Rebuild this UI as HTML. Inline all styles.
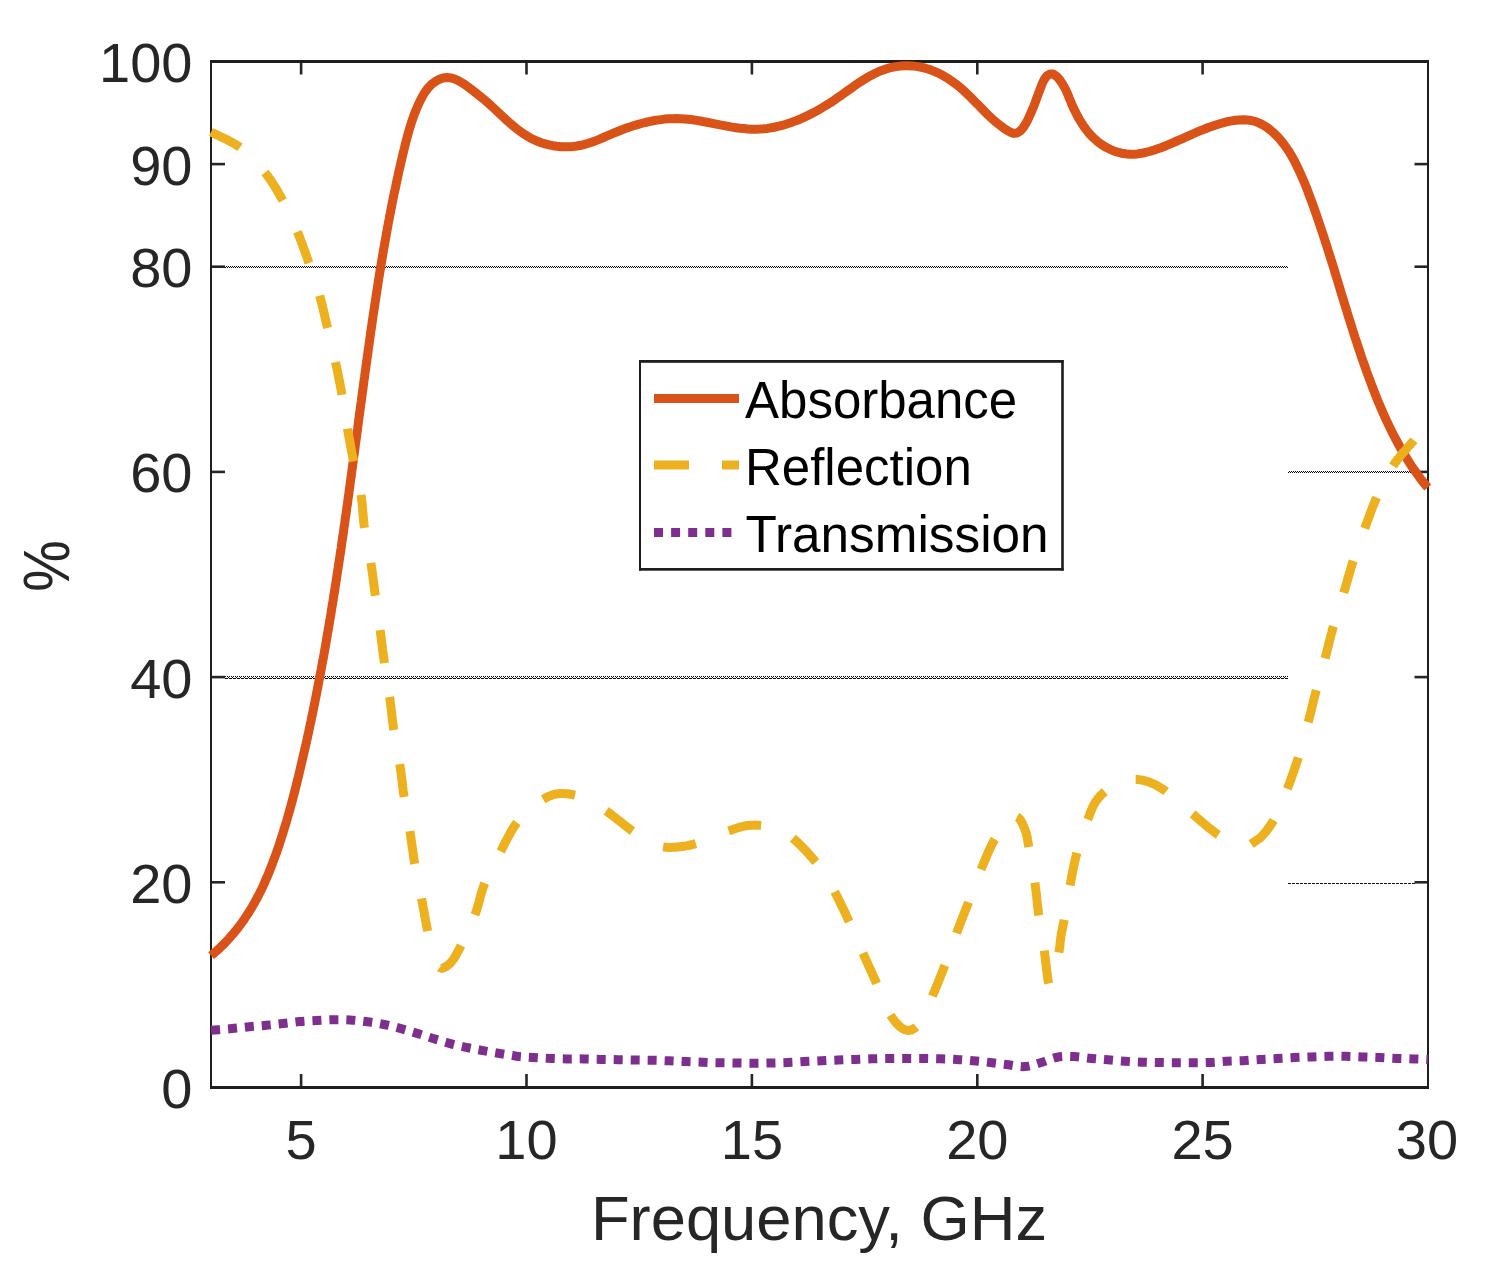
<!DOCTYPE html>
<html><head><meta charset="utf-8"><style>
html,body{margin:0;padding:0;background:#fff;}
body{width:1490px;height:1280px;overflow:hidden;}
svg{display:block;}
text{font-family:"Liberation Sans",sans-serif;}
</style></head><body>
<svg width="1490" height="1280" viewBox="0 0 1490 1280">
<defs>
<pattern id="chk" x="0" y="0" width="2" height="2" patternUnits="userSpaceOnUse"><rect x="0" y="0" width="1" height="1" fill="#000"/><rect x="1" y="1" width="1" height="1" fill="#000"/></pattern>
<pattern id="g3" x="0" y="676" width="4" height="3" patternUnits="userSpaceOnUse"><rect x="1" y="0" width="1" height="1" fill="#000"/><rect x="3" y="0" width="1" height="1" fill="#000"/><rect x="0" y="1" width="1" height="1" fill="#000"/><rect x="1" y="2" width="3" height="1" fill="#000"/></pattern>
</defs>
<rect width="1490" height="1280" fill="#fff"/>
<rect x="225" y="266" width="1063" height="2" fill="url(#chk)"/>
<rect x="225" y="676" width="1063" height="3" fill="url(#g3)"/>
<rect x="1288" y="471" width="127" height="2" fill="url(#chk)"/>
<line x1="1288" y1="883.5" x2="1415" y2="883.5" stroke="#111" stroke-width="1" stroke-dasharray="3 1"/>

<g fill="#262626">
<rect x="299.8" y="1074" width="2.6" height="13"/><rect x="299.8" y="62" width="2.6" height="12.5"/><rect x="525.2" y="1074" width="2.6" height="13"/><rect x="525.2" y="62" width="2.6" height="12.5"/><rect x="750.6" y="1074" width="2.6" height="13"/><rect x="750.6" y="62" width="2.6" height="12.5"/><rect x="976" y="1074" width="2.6" height="13"/><rect x="976" y="62" width="2.6" height="12.5"/><rect x="1201.3" y="1074" width="2.6" height="13"/><rect x="1201.3" y="62" width="2.6" height="12.5"/><rect x="211" y="881" width="14" height="2.6"/><rect x="1414.5" y="881" width="13" height="2.6"/><rect x="211" y="675.8" width="14" height="2.6"/><rect x="1414.5" y="675.8" width="13" height="2.6"/><rect x="211" y="470.6" width="14" height="2.6"/><rect x="1414.5" y="470.6" width="13" height="2.6"/><rect x="211" y="265.4" width="14" height="2.6"/><rect x="1414.5" y="265.4" width="13" height="2.6"/><rect x="211" y="162.8" width="14" height="2.6"/><rect x="1414.5" y="162.8" width="13" height="2.6"/>
<rect x="210" y="60" width="1219" height="3" fill="#1e1e1e"/>
<rect x="210" y="1086" width="1219" height="3" fill="#1e1e1e"/>
<rect x="210" y="60" width="2" height="1029" fill="#1e1e1e"/>
<rect x="1427" y="60" width="2" height="1029" fill="#1e1e1e"/>
</g>
<g fill="none" stroke-linejoin="round">
<path d="M211,1030.2 C217.9,1029.7 225.2,1029.2 231.8,1028.6 C237.9,1028 243.5,1027.3 249.3,1026.7 C255,1026.2 260.6,1025.8 266.2,1025.3 C271.8,1024.8 277.3,1024.1 282.9,1023.5 C288.4,1022.9 293.9,1022.1 299.5,1021.6 C305.1,1021.1 310.8,1020.8 316.4,1020.5 C322,1020.2 327.7,1019.8 333.3,1019.7 C338.9,1019.6 344.4,1019.7 350,1020 C355.7,1020.3 361.7,1021 367.4,1021.8 C373.1,1022.5 378.7,1023.4 384.3,1024.5 C389.9,1025.6 395.5,1027.1 401,1028.6 C406.4,1030.1 411.7,1031.8 417.1,1033.4 C422.5,1035.1 427.8,1036.8 433.2,1038.5 C438.6,1040.1 443.9,1041.8 449.3,1043.3 C454.8,1044.8 460.4,1046.1 466,1047.3 C471.6,1048.5 477.3,1049.6 482.9,1050.6 C488.5,1051.6 494.2,1052.6 499.8,1053.5 C505.4,1054.4 510.9,1055.5 516.4,1056.2 C521.9,1056.9 527.4,1057.1 533,1057.5 C538.6,1057.9 544.3,1058.2 550,1058.4 C555.6,1058.6 561.3,1058.8 566.9,1058.9 C572.5,1059 577.9,1058.8 583.5,1058.9 C589.2,1059 594.9,1059.3 600.7,1059.4 C606.5,1059.5 612.4,1059.6 618.2,1059.7 C623.9,1059.8 629.5,1059.9 635.1,1060 C640.7,1060.1 646.4,1060.1 652,1060.2 C657.6,1060.3 663.3,1060.6 668.9,1060.8 C674.5,1061 680.2,1061.4 685.8,1061.6 C691.4,1061.8 697.1,1062 702.7,1062.2 C708.4,1062.4 714,1062.7 719.7,1062.8 C725.3,1062.9 731,1062.9 736.6,1063 C742.2,1063.1 747.9,1063.3 753.5,1063.3 C759.1,1063.3 764.8,1063.1 770.4,1063 C776,1062.9 781.7,1062.7 787.3,1062.5 C792.9,1062.3 798.6,1061.9 804.2,1061.6 C809.8,1061.3 815.5,1061.1 821.1,1060.8 C826.7,1060.5 832.4,1060.2 838,1060 C843.6,1059.8 849.3,1059.6 854.9,1059.4 C860.5,1059.2 866.2,1058.9 871.8,1058.8 C877.5,1058.6 883.1,1058.5 888.8,1058.5 C894.4,1058.5 900.1,1058.5 905.7,1058.5 C911.3,1058.5 917,1058.5 922.6,1058.5 C928.2,1058.5 933.9,1058.7 939.5,1058.8 C945.1,1059 950.8,1059.1 956.4,1059.4 C962,1059.7 967.7,1060.3 973.3,1060.8 C978.9,1061.3 984.5,1061.8 990.2,1062.5 C996.1,1063.2 1002.4,1064.1 1008.3,1064.8 C1013.9,1065.5 1019.4,1067 1024.8,1066.6 C1030.3,1066.2 1035.7,1064.1 1041.1,1062.5 C1046.5,1060.9 1051.8,1058.2 1057.3,1057.2 C1062.8,1056.2 1068.6,1056.4 1074.2,1056.6 C1079.9,1056.8 1085.6,1057.9 1091.3,1058.4 C1096.9,1058.9 1102.5,1059.3 1108.1,1059.8 C1113.7,1060.3 1119.4,1060.9 1125,1061.3 C1130.6,1061.7 1136.2,1062 1141.8,1062.2 C1147.4,1062.4 1153,1062.4 1158.6,1062.5 C1164.2,1062.6 1169.9,1062.8 1175.5,1062.8 C1181.1,1062.8 1186.7,1062.8 1192.3,1062.8 C1197.9,1062.8 1203.5,1062.7 1209.1,1062.5 C1214.8,1062.3 1220.6,1061.6 1226.3,1061.3 C1231.9,1061 1237.5,1061 1243.1,1060.7 C1248.7,1060.4 1254.3,1059.8 1259.9,1059.5 C1265.6,1059.1 1271.4,1058.9 1277.1,1058.6 C1282.8,1058.3 1288.5,1057.8 1294.2,1057.5 C1299.9,1057.2 1305.6,1057.1 1311.3,1056.9 C1317,1056.7 1322.8,1056.4 1328.5,1056.3 C1334.2,1056.2 1339.9,1056.2 1345.6,1056.3 C1351.3,1056.4 1357,1056.7 1362.7,1056.9 C1368.4,1057.1 1374.1,1057.3 1379.8,1057.5 C1385.5,1057.8 1391.3,1058.2 1397,1058.4 C1402.6,1058.6 1408.4,1058.7 1413.8,1058.9 C1418.8,1059.1 1423.4,1059.3 1428.2,1059.5" stroke="#7E2F8E" stroke-width="9" stroke-dasharray="9 7.98"/>
<path d="M211.1,955.6 L214.2,953 L217.2,950.3 L220.2,947.6 L223.1,944.8 L225.9,941.9 L228.6,939 L231.2,936 L233.8,933 L236.4,929.9 L238.8,926.8 L241.2,923.6 L243.5,920.4 L245.7,917.1 L247.9,913.8 L250,910.4 L252.1,907 L254.1,903.5 L256,900 L257.9,896.5 L259.7,893 L261.5,889.4 L263.2,885.8 L264.8,882.1 L266.4,878.4 L268,874.8 L269.5,871 L271,867.3 L272.4,863.6 L273.8,859.8 L275.2,856 L276.6,852.3 L277.9,848.5 L279.2,844.7 L280.4,840.9 L281.6,837.1 L282.9,833.2 L284,829.4 L285.2,825.6 L286.4,821.8 L287.5,817.9 L288.6,814.1 L289.7,810.3 L290.7,806.4 L291.8,802.6 L292.8,798.7 L293.8,794.8 L294.8,791 L295.8,787.1 L296.8,783.2 L297.7,779.4 L298.7,775.5 L299.6,771.6 L300.5,767.7 L301.4,763.8 L302.3,760 L303.2,756.1 L304.1,752.2 L305,748.3 L305.9,744.4 L306.8,740.5 L307.6,736.6 L308.5,732.7 L309.3,728.8 L310.1,724.8 L311,720.9 L311.8,717 L312.6,713.1 L313.4,709.2 L314.2,705.3 L315,701.3 L315.8,697.4 L316.6,693.5 L317.3,689.6 L318.1,685.6 L318.8,681.7 L319.6,677.8 L320.3,673.8 L321.1,669.9 L321.8,666 L322.5,662 L323.3,658.1 L324,654.2 L324.7,650.2 L325.4,646.3 L326.1,642.3 L326.7,638.4 L327.4,634.5 L328.1,630.5 L328.8,626.6 L329.4,622.6 L330.1,618.7 L330.8,614.7 L331.4,610.8 L332,606.9 L332.7,602.9 L333.3,599 L333.9,595 L334.6,591.1 L335.2,587.1 L335.8,583.2 L336.4,579.2 L337,575.3 L337.6,571.3 L338.2,567.4 L338.8,563.4 L339.4,559.4 L340,555.5 L340.6,551.5 L341.2,547.6 L341.7,543.6 L342.3,539.7 L342.9,535.7 L343.5,531.8 L344,527.8 L344.6,523.9 L345.1,519.9 L345.7,515.9 L346.3,512 L346.8,508 L347.4,504.1 L347.9,500.1 L348.5,496.1 L349,492.2 L349.5,488.2 L350.1,484.3 L350.6,480.3 L351.2,476.3 L351.7,472.4 L352.2,468.4 L352.8,464.5 L353.3,460.5 L353.8,456.5 L354.4,452.6 L354.9,448.6 L355.4,444.7 L356,440.7 L356.5,436.7 L357,432.8 L357.6,428.8 L358.1,424.8 L358.6,420.9 L359.1,416.9 L359.7,413 L360.2,409 L360.7,405 L361.3,401.1 L361.8,397.1 L362.3,393.1 L362.9,389.2 L363.4,385.2 L363.9,381.3 L364.5,377.3 L365,373.3 L365.6,369.4 L366.1,365.4 L366.7,361.5 L367.2,357.5 L367.8,353.5 L368.3,349.6 L368.9,345.6 L369.4,341.7 L370,337.7 L370.5,333.7 L371.1,329.8 L371.7,325.8 L372.2,321.9 L372.8,317.9 L373.4,313.9 L374,310 L374.6,306 L375.2,302.1 L375.8,298.1 L376.4,294.2 L377,290.2 L377.6,286.3 L378.2,282.3 L378.8,278.4 L379.5,274.4 L380.1,270.5 L380.8,266.5 L381.4,262.6 L382.1,258.6 L382.7,254.7 L383.4,250.8 L384.1,246.8 L384.8,242.9 L385.5,239 L386.2,235 L386.9,231.1 L387.6,227.2 L388.3,223.2 L389.1,219.3 L389.8,215.4 L390.6,211.5 L391.4,207.5 L392.1,203.6 L392.9,199.7 L393.7,195.8 L394.5,191.9 L395.4,188 L396.2,184 L397,180.1 L397.9,176.2 L398.7,172.3 L399.6,168.4 L400.5,164.5 L401.4,160.6 L402.3,156.7 L403.2,152.9 L404.2,149 L405.1,145.1 L406.1,141.2 L407.1,137.3 L408.2,133.5 L409.2,129.6 L410.4,125.8 L411.6,122 L412.9,118.2 L414.2,114.5 L415.7,110.8 L417.2,107.1 L418.9,103.4 L420.6,99.8 L422.5,96.3 L424.5,92.8 L426.9,89.5 L429.5,86.4 L432.4,83.6 L435.8,81.2 L439.4,79.3 L443.1,78 L447,77.6 L450.8,77.9 L454.6,79 L458.3,80.7 L462,82.8 L465.5,85.1 L469,87.6 L472.3,90.1 L475.5,92.6 L478.5,95 L481.5,97.4 L484.5,99.8 L487.4,102.3 L490.2,104.9 L493.1,107.5 L496,110.2 L498.9,113 L501.8,115.7 L504.8,118.4 L507.7,121.2 L510.8,123.9 L513.9,126.5 L517,129 L520.2,131.4 L523.5,133.7 L526.9,135.9 L530.3,137.9 L533.9,139.7 L537.5,141.3 L541.3,142.7 L545.1,143.9 L549,144.9 L552.9,145.7 L556.9,146.3 L560.9,146.7 L564.9,146.8 L568.9,146.8 L572.9,146.5 L576.9,146 L580.8,145.3 L584.6,144.4 L588.4,143.3 L592.2,142 L596,140.6 L599.7,139.1 L603.4,137.5 L607.1,135.9 L610.8,134.3 L614.5,132.7 L618.3,131.2 L622.1,129.7 L625.9,128.3 L629.7,127 L633.5,125.8 L637.4,124.6 L641.2,123.5 L645.1,122.5 L649,121.6 L652.9,120.8 L656.8,120.1 L660.8,119.6 L664.7,119.1 L668.6,118.8 L672.6,118.7 L676.6,118.6 L680.5,118.7 L684.5,119 L688.4,119.3 L692.4,119.8 L696.4,120.4 L700.4,121 L704.3,121.8 L708.3,122.5 L712.3,123.3 L716.3,124.1 L720.2,124.9 L724.2,125.6 L728.2,126.4 L732.1,127.1 L736.1,127.7 L740,128.2 L744,128.6 L747.9,129 L751.8,129.2 L755.7,129.2 L759.7,129.1 L763.6,128.8 L767.5,128.4 L771.3,127.8 L775.2,127 L779,126.2 L782.9,125.2 L786.7,124 L790.5,122.8 L794.2,121.4 L798,120 L801.7,118.4 L805.4,116.7 L809.1,114.9 L812.7,113.1 L816.3,111.1 L819.9,109.1 L823.4,107 L826.9,104.9 L830.4,102.7 L833.8,100.4 L837.2,98.1 L840.6,95.8 L843.9,93.4 L847.2,91 L850.5,88.7 L853.8,86.3 L857.1,84.1 L860.4,81.8 L863.8,79.7 L867.1,77.7 L870.5,75.7 L874,73.9 L877.5,72.2 L881.1,70.7 L884.7,69.4 L888.4,68.2 L892.2,67.3 L896.1,66.6 L900.1,66.1 L904.1,65.8 L908.2,65.8 L912.2,65.9 L916.3,66.4 L920.2,67 L924.1,67.9 L928,69 L931.7,70.3 L935.4,71.8 L939,73.4 L942.5,75.3 L946,77.3 L949.3,79.4 L952.6,81.7 L955.9,84.1 L959,86.6 L962.1,89.2 L965.1,91.9 L968,94.7 L970.9,97.5 L973.7,100.4 L976.5,103.3 L979.4,106.1 L982.2,109 L985,111.9 L987.8,114.7 L990.8,117.5 L993.7,120.2 L996.7,122.8 L999.9,125.3 L1003.1,127.7 L1006.4,129.9 L1009.9,132 L1013.4,133.4 L1017,133 L1020.3,130.9 L1023.3,127.5 L1025.7,123.7 L1027.8,119.9 L1029.5,116.2 L1031.1,112.6 L1032.5,109.2 L1033.9,105.9 L1035.2,102.5 L1036.4,99.1 L1037.7,95.5 L1039.1,91.8 L1040.6,87.8 L1042.2,83.6 L1044.2,79.5 L1046.7,76.1 L1049.9,74 L1053.2,74.1 L1056.4,76.2 L1059.4,79.4 L1062,83.2 L1064.2,86.9 L1066.1,90.5 L1067.7,94.1 L1069.1,97.7 L1070.6,101.2 L1072,104.8 L1073.6,108.4 L1075.4,111.9 L1077.2,115.5 L1079.1,119 L1081.2,122.4 L1083.4,125.8 L1085.7,129 L1088.2,132.2 L1090.8,135.2 L1093.6,138 L1096.6,140.7 L1099.7,143.2 L1103,145.5 L1106.5,147.5 L1110.1,149.3 L1113.8,150.9 L1117.7,152.2 L1121.5,153.2 L1125.5,153.8 L1129.4,154.2 L1133.4,154.2 L1137.4,153.9 L1141.3,153.3 L1145.3,152.5 L1149.2,151.5 L1153.1,150.4 L1157,149.1 L1160.9,147.7 L1164.7,146.2 L1168.4,144.7 L1172.1,143.1 L1175.8,141.5 L1179.4,139.9 L1183.1,138.3 L1186.7,136.7 L1190.3,135.1 L1193.9,133.5 L1197.5,131.9 L1201.1,130.4 L1204.8,129 L1208.4,127.5 L1212.2,126.2 L1215.9,125 L1219.8,123.8 L1223.6,122.7 L1227.6,121.7 L1231.6,120.9 L1235.6,120.3 L1239.6,119.9 L1243.6,119.8 L1247.5,120 L1251.4,120.5 L1255.2,121.5 L1258.8,122.9 L1262.4,124.6 L1265.8,126.6 L1269.1,129 L1272.2,131.6 L1275.2,134.4 L1278.1,137.3 L1280.8,140.4 L1283.4,143.6 L1285.8,146.9 L1288.1,150.2 L1290.2,153.6 L1292.2,157 L1294.1,160.4 L1295.9,163.9 L1297.6,167.5 L1299.3,171 L1300.9,174.6 L1302.5,178.3 L1304.1,181.9 L1305.6,185.6 L1307.1,189.3 L1308.5,193.1 L1309.9,196.8 L1311.3,200.6 L1312.7,204.4 L1314.1,208.2 L1315.4,212 L1316.7,215.8 L1318,219.6 L1319.3,223.4 L1320.6,227.2 L1321.9,231 L1323.1,234.8 L1324.4,238.6 L1325.6,242.4 L1326.8,246.2 L1328,250 L1329.2,253.8 L1330.4,257.6 L1331.6,261.4 L1332.8,265.3 L1334,269.1 L1335.1,272.9 L1336.3,276.7 L1337.5,280.5 L1338.6,284.3 L1339.8,288.1 L1340.9,292 L1342.1,295.8 L1343.3,299.6 L1344.4,303.4 L1345.6,307.2 L1346.8,311 L1347.9,314.8 L1349.1,318.6 L1350.3,322.4 L1351.5,326.2 L1352.7,330 L1353.9,333.8 L1355.1,337.6 L1356.4,341.4 L1357.6,345.2 L1358.9,349 L1360.2,352.8 L1361.4,356.6 L1362.7,360.4 L1364,364.1 L1365.4,367.9 L1366.7,371.7 L1368.1,375.5 L1369.5,379.2 L1370.9,383 L1372.3,386.8 L1373.8,390.5 L1375.2,394.2 L1376.7,398 L1378.2,401.7 L1379.8,405.4 L1381.4,409.1 L1383,412.8 L1384.6,416.4 L1386.3,420.1 L1388,423.7 L1389.7,427.3 L1391.5,430.9 L1393.3,434.5 L1395.1,438 L1397,441.5 L1398.9,445 L1400.8,448.5 L1402.8,451.9 L1404.9,455.4 L1406.9,458.7 L1409,462.1 L1411.2,465.4 L1413.4,468.7 L1415.7,471.9 L1418,475.1 L1420.3,478.3 L1422.7,481.5 L1425.2,484.5 L1427.7,487.6" stroke="#D95319" stroke-width="9"/>
<path d="M211,132 L212.8,132.9 L214.6,133.9 L216.5,134.7 L218.3,135.6 L220.2,136.5 L222,137.4 L223.9,138.2 L225.7,139.1 L227.5,140 L229.4,141 L231.2,141.9 L232.9,142.9 L234.7,143.9 L236.4,145 L238.1,146.1 L239.8,147.3 L241.4,148.5 L243,149.8 L244.5,151 L246.1,152.4 L247.6,153.7 L249.1,155.1 L250.6,156.6 L252.1,158 L253.6,159.5 L255,161 L256.4,162.5 L257.8,164 L259.2,165.6 L260.6,167.2 L261.9,168.7 L263.2,170.3 L264.5,171.9 L265.8,173.5 L267,175.1 L268.2,176.8 L269.4,178.4 L270.6,180.1 L271.7,181.8 L272.8,183.5 L273.9,185.3 L275,187 L276.1,188.8 L277.2,190.5 L278.2,192.3 L279.2,194.1 L280.2,195.9 L281.2,197.6 L282.2,199.4 L283.2,201.2 L284.2,203.1 L285.2,204.9 L286.1,206.8 L287.1,208.7 L288,210.5 L288.9,212.4 L289.8,214.3 L290.7,216.2 L291.5,218.1 L292.4,220 L293.2,222 L294,223.9 L294.9,225.8 L295.7,227.7 L296.5,229.7 L297.3,231.6 L298.1,233.5 L298.9,235.5 L299.7,237.5 L300.4,239.4 L301.2,241.4 L301.9,243.4 L302.7,245.4 L303.4,247.4 L304.1,249.4 L304.8,251.3 L305.5,253.3 L306.2,255.3 L306.9,257.3 L307.6,259.3 L308.3,261.3 L309,263.3 L309.7,265.3 L310.4,267.2 L311.1,269.2 L311.8,271.2 L312.4,273.1 L313.1,275.1 L313.8,277.1 L314.5,279 L315.1,281 L315.8,283 L316.4,285 L317.1,287 L317.7,289 L318.3,291 L318.9,293 L319.5,295 L320,297 L320.6,298.9 L321.1,300.9 L321.6,302.9 L322.1,304.8 L322.6,306.8 L323.1,308.8 L323.5,310.8 L324,312.8 L324.5,314.8 L324.9,316.8 L325.4,318.8 L325.8,320.9 L326.3,322.9 L326.8,324.9 L327.2,326.9 L327.7,328.9 L328.2,330.9 L328.7,333 L329.2,335.1 L329.7,337.2 L330.2,339.2 L330.7,341.3 L331.2,343.4 L331.7,345.5 L332.2,347.6 L332.7,349.7 L333.2,351.7 L333.6,353.8 L334.1,355.9 L334.6,357.9 L335,359.9 L335.5,361.9 L335.9,363.9 L336.4,366.1 L336.8,368.2 L337.3,370.3 L337.7,372.4 L338.1,374.4 L338.5,376.5 L338.9,378.5 L339.3,380.5 L339.7,382.6 L340.1,384.7 L340.5,386.8 L340.9,388.9 L341.3,391 L341.7,393.2 L342,395.1 L342.4,397.1 L342.7,399.1 L343,401.1 L343.4,403.1 L343.7,405.1 L344,407.2 L344.3,409.2 L344.7,411.3 L345,413.3 L345.3,415.4 L345.6,417.5 L345.9,419.5 L346.3,421.5 L346.6,423.6 L346.9,425.6 L347.3,427.5 L347.6,429.5 L348,431.7 L348.4,433.8 L348.7,435.9 L349.1,438 L349.5,440 L349.9,442.1 L350.3,444.2 L350.6,446.2 L351,448.3 L351.4,450.3 L351.8,452.4 L352.2,454.5 L352.6,456.6 L353.1,458.7 L353.5,460.8 L353.9,462.8 L354.4,464.8 L354.8,466.9 L355.3,468.9 L355.8,471 L356.3,473.1 L356.7,475.2 L357.2,477.2 L357.7,479.3 L358.2,481.4 L358.7,483.5 L359.1,485.6 L359.6,487.6 L360,489.7 L360.4,491.7 L360.8,493.8 L361.1,495.8 L361.4,497.9 L361.7,500.1 L362,502.2 L362.2,504.3 L362.4,506.4 L362.6,508.5 L362.7,510.6 L362.9,512.7 L363.1,514.7 L363.2,516.8 L363.4,518.9 L363.6,521.1 L363.9,523.2 L364.1,525.3 L364.4,527.5 L364.7,529.5 L365,531.4 L365.3,533.4 L365.7,535.4 L366.1,537.4 L366.4,539.5 L366.8,541.5 L367.2,543.5 L367.6,545.6 L368,547.6 L368.4,549.6 L368.8,551.6 L369.2,553.7 L369.6,555.7 L370,557.7 L370.3,559.7 L370.7,561.6 L371,563.6 L371.3,565.6 L371.6,567.7 L371.9,569.7 L372.2,571.7 L372.5,573.6 L372.7,575.6 L373,577.6 L373.2,579.5 L373.5,581.5 L373.7,583.5 L374,585.4 L374.2,587.4 L374.5,589.4 L374.8,591.4 L375,593.4 L375.3,595.4 L375.6,597.4 L375.9,599.4 L376.1,601.4 L376.4,603.5 L376.7,605.5 L377,607.6 L377.3,609.6 L377.6,611.7 L377.8,613.7 L378.1,615.8 L378.4,617.8 L378.7,619.9 L379,622 L379.3,624 L379.5,626 L379.8,628.1 L380.1,630.1 L380.4,632.2 L380.7,634.3 L380.9,636.4 L381.2,638.5 L381.5,640.5 L381.7,642.6 L382,644.7 L382.3,646.8 L382.5,648.8 L382.8,650.9 L383.1,653 L383.4,655.1 L383.6,657.1 L383.9,659.2 L384.2,661.3 L384.5,663.4 L384.8,665.4 L385.1,667.4 L385.4,669.4 L385.7,671.4 L386,673.4 L386.3,675.4 L386.6,677.5 L387,679.5 L387.3,681.5 L387.6,683.5 L387.9,685.5 L388.2,687.5 L388.5,689.5 L388.8,691.5 L389.1,693.5 L389.4,695.5 L389.7,697.5 L390,699.5 L390.2,701.6 L390.5,703.6 L390.7,705.6 L391,707.6 L391.2,709.6 L391.4,711.6 L391.7,713.6 L391.9,715.6 L392.1,717.6 L392.3,719.7 L392.6,721.7 L392.9,723.7 L393.1,725.7 L393.4,727.8 L393.7,729.8 L394,731.8 L394.3,733.8 L394.7,735.9 L395,737.9 L395.4,740 L395.8,742 L396.2,744.1 L396.5,746.1 L396.9,748.2 L397.3,750.2 L397.7,752.3 L398.1,754.3 L398.4,756.4 L398.8,758.4 L399.1,760.5 L399.5,762.5 L399.8,764.5 L400.1,766.6 L400.4,768.6 L400.7,770.6 L401,772.7 L401.2,774.7 L401.5,776.7 L401.7,778.7 L402,780.7 L402.2,782.7 L402.5,784.7 L402.7,786.8 L403,788.8 L403.2,790.8 L403.5,792.8 L403.8,794.9 L404.1,796.9 L404.4,798.9 L404.7,800.9 L405.1,802.9 L405.4,804.9 L405.7,806.9 L406.1,808.9 L406.4,810.9 L406.8,812.9 L407.1,814.9 L407.5,816.9 L407.9,819 L408.2,821 L408.6,823 L408.9,825 L409.2,827 L409.6,829 L409.9,831 L410.2,833.1 L410.5,835.2 L410.8,837.2 L411.1,839.3 L411.4,841.4 L411.7,843.5 L412,845.5 L412.3,847.6 L412.6,849.7 L412.9,851.7 L413.2,853.8 L413.5,855.9 L413.8,857.9 L414.1,860 L414.4,862.1 L414.8,864.2 L415.2,866.2 L415.5,868.2 L415.9,870.3 L416.3,872.3 L416.7,874.4 L417.1,876.4 L417.5,878.4 L417.9,880.5 L418.3,882.5 L418.7,884.6 L419.2,886.6 L419.6,888.7 L420,890.7 L420.4,892.7 L420.8,894.7 L421.2,896.7 L421.6,898.8 L422,900.8 L422.4,902.9 L422.8,905 L423.1,907 L423.5,909.1 L423.9,911.2 L424.3,913.2 L424.6,915.3 L425,917.4 L425.4,919.4 L425.8,921.4 L426.1,923.4 L426.5,925.4 L426.9,927.3 L427.3,929.2 L427.7,931.1 L428.2,933.3 L428.6,935.4 L429.1,937.6 L429.6,939.7 L430,941.8 L430.5,943.9 L431,945.9 L431.5,947.9 L432,949.8 L432.5,951.6 L433,953.4 L433.5,955 L434.3,957.6 L435.2,960.1 L436,962.4 L436.9,964.4 L438,966 L439.9,967.5 L442,968.5 L444.5,967.4 L447,966 L448.9,964.5 L450.7,962.7 L452.5,960.5 L453.5,959.1 L454.6,957.5 L455.6,955.8 L456.6,953.9 L457.7,952 L458.8,949.9 L459.9,947.8 L461,945.6 L461.8,944 L462.6,942.4 L463.5,940.7 L464.3,938.9 L465.2,937 L466.1,935.1 L467,933.2 L468,931.2 L468.9,929.2 L469.8,927.2 L470.7,925.2 L471.5,923.2 L472.4,921.2 L473.2,919.2 L474,917.2 L474.8,915.3 L475.5,913.4 L476.2,911.5 L476.8,909.5 L477.4,907.6 L478,905.7 L478.5,903.8 L479,901.9 L479.5,900 L480,898 L480.5,896.1 L481,894.2 L481.6,892.3 L482.1,890.4 L482.8,888.4 L483.5,886.5 L484.2,884.5 L484.9,882.7 L485.7,880.9 L486.5,879.1 L487.3,877.2 L488.2,875.4 L489.1,873.5 L490,871.6 L491,869.8 L491.9,867.9 L492.9,866 L493.9,864.1 L494.8,862.3 L495.8,860.4 L496.8,858.6 L497.8,856.8 L498.7,855 L499.7,853.2 L500.6,851.5 L501.5,849.8 L502.5,847.8 L503.6,845.8 L504.6,843.8 L505.6,841.8 L506.6,839.9 L507.6,838 L508.6,836.1 L509.7,834.2 L510.7,832.3 L511.7,830.5 L512.8,828.8 L513.8,827.1 L514.9,825.4 L516,823.8 L517.3,822 L518.7,820.2 L520,818.4 L521.4,816.8 L522.8,815.1 L524.3,813.6 L525.7,812.1 L527.1,810.7 L528.6,809.3 L530,808 L531.8,806.5 L533.6,805.2 L535.4,804 L537.2,802.8 L539,801.7 L540.8,800.7 L542.6,799.7 L544.5,798.6 L546.4,797.6 L548.4,796.6 L550.3,795.7 L552.2,795 L554,794.4 L556.2,793.9 L558.3,793.7 L560.4,793.6 L562.7,793.6 L564.7,793.7 L566.9,793.8 L569.1,794 L571.3,794.4 L573.6,794.8 L575.8,795.3 L577.8,795.9 L579.8,796.5 L581.9,797.3 L583.9,798.1 L585.9,799 L588,800 L590,801 L591.8,801.9 L593.5,802.9 L595.3,803.9 L597,804.9 L598.8,806 L600.6,807.2 L602.5,808.4 L604.3,809.7 L606.3,811 L607.8,812.1 L609.4,813.2 L611,814.4 L612.6,815.7 L614.3,817 L616,818.3 L617.7,819.7 L619.4,821 L621.2,822.4 L622.9,823.8 L624.6,825.1 L626.3,826.4 L627.9,827.7 L629.5,828.9 L631,830 L632.5,831.1 L634.4,832.4 L636.2,833.7 L637.9,834.9 L639.6,836 L641.3,837.1 L643,838.1 L644.6,839.1 L646.3,840.1 L648,841 L650,842 L652,843 L653.9,844 L655.9,844.9 L657.9,845.6 L660,846.3 L662.1,846.8 L664.2,847.1 L666.3,847.3 L668.5,847.4 L670.7,847.4 L672.9,847.3 L675.2,847.2 L677.4,847 L679.6,846.8 L681.8,846.6 L684,846.2 L686.2,845.9 L688.4,845.5 L690.6,845 L692.7,844.5 L694.9,843.9 L697,843.3 L699.1,842.6 L701.1,841.9 L703.1,841.1 L705.1,840.3 L707.1,839.5 L709,838.6 L711,837.8 L713,837 L714.9,836.2 L716.8,835.5 L718.7,834.7 L720.6,834 L722.5,833.2 L724.5,832.5 L726.4,831.8 L728.4,831.1 L730.3,830.4 L732.2,829.8 L734.2,829.1 L736.1,828.4 L738.1,827.7 L740.1,827.1 L742,826.6 L744,826.2 L745.9,825.8 L748.2,825.5 L750.4,825.3 L752.7,825.2 L754.9,825.1 L757.1,825.2 L759.4,825.3 L761.6,825.5 L763.7,825.7 L765.7,826 L767.8,826.3 L769.9,826.7 L772,827.1 L774,827.7 L776,828.3 L778,829 L779.9,829.8 L781.8,830.7 L783.6,831.7 L785.4,832.8 L787.1,833.9 L789,835.2 L790.8,836.6 L792.7,838.1 L794.1,839.3 L795.5,840.5 L797,841.9 L798.6,843.4 L800.1,844.9 L801.7,846.5 L803.3,848.1 L804.9,849.8 L806.5,851.4 L808,853.1 L809.5,854.8 L811,856.4 L812.4,858 L813.7,859.6 L814.9,861.1 L816.1,862.5 L817.6,864.4 L819,866.3 L820.3,868.1 L821.5,869.9 L822.6,871.6 L823.7,873.4 L824.9,875.2 L826,877 L827.1,878.8 L828.2,880.5 L829.3,882.3 L830.3,884 L831.4,885.8 L832.4,887.7 L833.6,889.7 L834.7,891.8 L835.5,893.4 L836.4,895 L837.3,896.8 L838.2,898.6 L839.1,900.4 L840,902.3 L840.9,904.2 L841.9,906.2 L842.8,908.1 L843.8,910.1 L844.7,912.1 L845.7,914.1 L846.6,916.1 L847.5,918.1 L848.4,920.1 L849.3,922 L850.1,923.8 L851,925.6 L851.8,927.5 L852.6,929.3 L853.4,931.2 L854.2,933 L855,934.9 L855.8,936.7 L856.6,938.6 L857.4,940.4 L858.2,942.3 L859,944.1 L859.8,946 L860.6,947.8 L861.4,949.6 L862.2,951.5 L863,953.3 L863.9,955.2 L864.7,957.1 L865.6,959 L866.4,960.9 L867.3,962.8 L868.1,964.7 L869,966.6 L869.9,968.5 L870.7,970.3 L871.6,972.2 L872.4,974.1 L873.3,976 L874.1,977.9 L875,979.8 L875.9,981.7 L876.7,983.6 L877.5,985.4 L878.3,987.3 L879.1,989.3 L879.9,991.2 L880.7,993.2 L881.4,995.2 L882.2,997.2 L883,999.1 L883.8,1001.1 L884.6,1003 L885.4,1004.9 L886.2,1006.7 L887,1008.5 L887.8,1010.2 L888.6,1011.8 L889.4,1013.4 L890.3,1014.8 L891.6,1016.8 L892.9,1018.7 L894.3,1020.6 L895.6,1022.2 L897,1023.8 L898.4,1025.2 L899.7,1026.4 L901.1,1027.5 L903,1028.7 L905,1029.7 L907,1030.3 L908.9,1030.4 L910.9,1030 L912.9,1029.2 L914.9,1028 L916.7,1026.5 L918,1025.1 L919.3,1023.4 L920.5,1021.5 L921.7,1019.4 L922.8,1017.3 L923.9,1015.1 L925,1013 L925.9,1011.3 L926.7,1009.5 L927.5,1007.8 L928.3,1006 L929,1004.2 L929.8,1002.3 L930.6,1000.4 L931.4,998.4 L932.3,996.3 L933,994.6 L933.7,992.9 L934.5,991.1 L935.3,989.2 L936.1,987.3 L936.9,985.3 L937.7,983.3 L938.5,981.3 L939.3,979.3 L940.2,977.2 L941,975.2 L941.8,973.1 L942.6,971.1 L943.4,969 L944.2,967 L945,965 L945.7,963.1 L946.4,961.2 L947.1,959.3 L947.8,957.4 L948.5,955.5 L949.2,953.6 L949.9,951.7 L950.6,949.8 L951.2,947.9 L951.9,946 L952.6,944.1 L953.3,942.2 L953.9,940.3 L954.6,938.4 L955.3,936.5 L956,934.7 L956.7,932.8 L957.4,930.9 L958.1,929 L958.9,927.1 L959.6,925.2 L960.3,923.3 L961,921.4 L961.8,919.5 L962.5,917.7 L963.2,915.8 L964,913.9 L964.7,912 L965.4,910.1 L966.2,908.3 L966.9,906.3 L967.7,904.4 L968.4,902.5 L969.1,900.6 L969.9,898.7 L970.6,896.7 L971.3,894.8 L972.1,892.8 L972.8,890.8 L973.5,888.8 L974.3,886.9 L975,884.9 L975.7,882.9 L976.5,880.9 L977.2,879 L978,877 L978.8,875.1 L979.5,873.1 L980.3,871.2 L981.1,869.3 L981.9,867.3 L982.7,865.4 L983.6,863.3 L984.4,861.3 L985.3,859.3 L986.1,857.3 L987,855.3 L987.8,853.3 L988.7,851.4 L989.6,849.4 L990.4,847.6 L991.3,845.7 L992.2,844 L993.1,842.3 L993.9,840.6 L994.8,839.1 L996,837 L997.3,835 L998.5,833.1 L999.7,831.3 L1000.9,829.6 L1002.2,828 L1003.6,826.5 L1005,825 L1006.6,823.4 L1008.4,821.8 L1010.2,820.2 L1012,818.8 L1013.8,817.7 L1015.5,817 L1017,817 L1018.4,817.7 L1019.8,819.1 L1021.1,821 L1022.2,823.2 L1023.3,825.6 L1024.3,828 L1025.2,830.3 L1025.9,832.2 L1026.4,834 L1026.9,836 L1027.3,838 L1027.6,840 L1028,842.1 L1028.3,844.3 L1028.7,846.6 L1029.1,848.9 L1029.4,850.6 L1029.8,852.4 L1030.1,854.3 L1030.5,856.2 L1030.8,858.2 L1031.2,860.2 L1031.5,862.2 L1031.9,864.3 L1032.3,866.4 L1032.6,868.5 L1033,870.6 L1033.3,872.7 L1033.6,874.8 L1034,876.9 L1034.3,879 L1034.6,881 L1034.9,883 L1035.2,885 L1035.5,887.1 L1035.7,889.1 L1036,891.1 L1036.2,893.1 L1036.4,895.1 L1036.7,897.1 L1036.9,899.1 L1037.1,901.2 L1037.3,903.2 L1037.5,905.2 L1037.8,907.2 L1038,909.2 L1038.3,911.2 L1038.5,913.3 L1038.8,915.3 L1039.1,917.3 L1039.4,919.3 L1039.7,921.3 L1040,923.3 L1040.3,925.3 L1040.6,927.3 L1040.9,929.4 L1041.3,931.4 L1041.6,933.4 L1041.9,935.4 L1042.3,937.5 L1042.6,939.5 L1042.9,941.5 L1043.2,943.5 L1043.5,945.5 L1043.8,947.4 L1044.1,949.4 L1044.4,951.5 L1044.7,953.7 L1045,956 L1045.2,958.2 L1045.5,960.5 L1045.8,962.8 L1046.1,965 L1046.3,967.3 L1046.6,969.4 L1046.8,971.5 L1047.1,973.4 L1047.3,975.3 L1047.5,977 L1047.8,978.6 L1048,980 L1048.5,982.7 L1049,984.9 L1049.5,987 L1050.1,985 L1050.6,983.1 L1051.2,981.2 L1051.8,979.3 L1052.4,977.2 L1053,975 L1053.5,973.2 L1054,971.3 L1054.6,969.3 L1055.2,967.3 L1055.8,965.2 L1056.3,963 L1056.9,960.9 L1057.4,958.8 L1057.9,956.7 L1058.4,954.6 L1058.8,952.7 L1059.2,950.5 L1059.5,948.4 L1059.8,946.3 L1060,944.2 L1060.2,942.2 L1060.4,940.1 L1060.7,938.1 L1061,936 L1061.3,933.9 L1061.7,931.9 L1062.1,930 L1062.5,928 L1062.9,925.9 L1063.3,923.8 L1063.8,921.6 L1064.2,919.2 L1064.5,917.5 L1064.8,915.7 L1065.1,913.9 L1065.5,912 L1065.8,910 L1066.1,908 L1066.5,905.9 L1066.8,903.8 L1067.2,901.7 L1067.5,899.6 L1067.9,897.5 L1068.2,895.3 L1068.6,893.2 L1069,891.1 L1069.3,889 L1069.7,887 L1070.1,885 L1070.5,883 L1070.9,880.9 L1071.3,878.9 L1071.6,876.9 L1072,874.9 L1072.4,872.8 L1072.8,870.8 L1073.2,868.8 L1073.6,866.8 L1074,864.8 L1074.5,862.8 L1074.9,860.8 L1075.4,858.8 L1075.9,856.8 L1076.4,854.8 L1076.9,852.8 L1077.4,850.8 L1078,848.8 L1078.6,846.8 L1079.2,844.8 L1079.8,842.7 L1080.4,840.6 L1081.1,838.6 L1081.7,836.5 L1082.4,834.5 L1083.1,832.5 L1083.8,830.5 L1084.4,828.6 L1085.1,826.7 L1085.8,824.8 L1086.4,823 L1087.1,821.3 L1087.7,819.6 L1088.6,817.3 L1089.4,815.2 L1090.2,813.1 L1091,811.1 L1091.8,809.1 L1092.6,807.2 L1093.5,805.4 L1094.5,803.7 L1095.5,802 L1096.7,800.2 L1098,798.6 L1099.3,797 L1100.6,795.5 L1102.1,794 L1103.6,792.6 L1105.2,791.2 L1106.8,789.9 L1108.5,788.6 L1110.3,787.3 L1112.2,786 L1114.1,784.9 L1116.1,783.8 L1118,782.8 L1120,782 L1122,781.3 L1124,780.8 L1126.1,780.3 L1128.2,780 L1130.3,779.7 L1132.4,779.5 L1134.5,779.5 L1136.5,779.5 L1138.5,779.6 L1140.5,779.9 L1142.5,780.2 L1144.4,780.6 L1146.3,781.2 L1148.2,781.8 L1150.2,782.5 L1152.1,783.3 L1154,784.1 L1155.9,785.1 L1157.8,786.1 L1159.7,787.3 L1161.7,788.5 L1163.7,789.8 L1165.8,791.2 L1167.2,792.3 L1168.7,793.4 L1170.1,794.5 L1171.6,795.7 L1173.2,797 L1174.7,798.4 L1176.3,799.7 L1177.9,801.1 L1179.5,802.5 L1181.1,804 L1182.7,805.4 L1184.3,806.9 L1185.9,808.3 L1187.5,809.7 L1189.1,811.1 L1190.7,812.5 L1192.3,813.8 L1193.9,815.1 L1195.5,816.4 L1197.1,817.8 L1198.7,819.2 L1200.3,820.6 L1201.9,822 L1203.6,823.3 L1205.2,824.7 L1206.8,826.1 L1208.4,827.4 L1210,828.7 L1211.6,829.9 L1213.2,831.1 L1214.7,832.3 L1216.2,833.4 L1217.7,834.4 L1219.1,835.3 L1221.2,836.6 L1223.3,837.8 L1225.4,838.8 L1227.4,839.8 L1229.3,840.7 L1231.3,841.5 L1233.2,842.3 L1235,843 L1237.4,844 L1239.7,845 L1241.9,845.8 L1244.1,846.4 L1246,846.5 L1248.1,845.9 L1250,844.8 L1252,843.4 L1253.8,842.3 L1255.6,841.1 L1257.6,839.8 L1259.5,838.3 L1261.4,836.6 L1262.6,835.3 L1263.9,833.9 L1265.2,832.4 L1266.5,830.8 L1267.7,829.1 L1269,827.4 L1270.2,825.6 L1271.4,823.9 L1272.5,822.2 L1273.5,820.5 L1274.6,818.6 L1275.6,816.7 L1276.6,814.8 L1277.5,812.8 L1278.4,810.9 L1279.3,808.9 L1280.1,807 L1281,805 L1281.9,803 L1282.7,801 L1283.5,799 L1284.3,797 L1285.1,795 L1285.9,792.9 L1286.7,790.6 L1287.6,788.3 L1288.2,786.6 L1288.8,784.9 L1289.5,783.1 L1290.2,781.3 L1290.8,779.5 L1291.5,777.6 L1292.2,775.6 L1292.9,773.7 L1293.6,771.7 L1294.3,769.6 L1295,767.6 L1295.7,765.6 L1296.3,763.5 L1297,761.5 L1297.7,759.4 L1298.3,757.4 L1298.9,755.5 L1299.5,753.6 L1300,751.7 L1300.6,749.7 L1301.2,747.7 L1301.8,745.7 L1302.3,743.7 L1302.9,741.7 L1303.5,739.6 L1304,737.6 L1304.6,735.6 L1305.1,733.6 L1305.7,731.6 L1306.2,729.6 L1306.7,727.6 L1307.3,725.7 L1307.8,723.7 L1308.3,721.9 L1308.8,720 L1309.3,717.9 L1309.8,715.8 L1310.4,713.8 L1310.9,711.8 L1311.3,709.8 L1311.8,707.8 L1312.3,705.9 L1312.8,703.9 L1313.3,702 L1313.7,700 L1314.2,698 L1314.7,696 L1315.3,694 L1315.8,691.9 L1316.3,690 L1316.8,688 L1317.4,686.1 L1317.9,684.1 L1318.5,682.1 L1319,680.1 L1319.6,678.1 L1320.2,676 L1320.7,674 L1321.3,672 L1321.9,669.9 L1322.4,667.9 L1323,665.9 L1323.6,663.9 L1324.1,661.9 L1324.7,659.9 L1325.2,657.9 L1325.7,655.9 L1326.3,653.9 L1326.8,651.9 L1327.3,649.9 L1327.8,647.9 L1328.3,646 L1328.7,644 L1329.2,642 L1329.7,640.1 L1330.2,638.1 L1330.7,636.1 L1331.2,634.2 L1331.8,632.2 L1332.3,630.2 L1332.8,628.2 L1333.4,626.2 L1334,624.2 L1334.5,622.2 L1335.1,620.3 L1335.7,618.3 L1336.4,616.3 L1337,614.3 L1337.6,612.3 L1338.3,610.2 L1338.9,608.2 L1339.5,606.2 L1340.2,604.2 L1340.8,602.2 L1341.4,600.2 L1342.1,598.2 L1342.7,596.2 L1343.3,594.3 L1343.9,592.3 L1344.5,590.3 L1345.1,588.3 L1345.7,586.3 L1346.3,584.3 L1346.8,582.3 L1347.4,580.4 L1348,578.4 L1348.5,576.4 L1349.1,574.4 L1349.7,572.5 L1350.2,570.5 L1350.8,568.5 L1351.4,566.5 L1352,564.6 L1352.7,562.6 L1353.3,560.6 L1353.9,558.7 L1354.6,556.7 L1355.2,554.8 L1355.9,552.9 L1356.6,550.9 L1357.3,549 L1358,547 L1358.6,545.1 L1359.3,543.2 L1360.1,541.2 L1360.8,539.3 L1361.5,537.4 L1362.2,535.4 L1362.9,533.5 L1363.6,531.6 L1364.3,529.7 L1365,527.8 L1365.7,525.9 L1366.4,523.9 L1367.1,522 L1367.8,520.1 L1368.5,518.2 L1369.2,516.3 L1369.9,514.4 L1370.6,512.5 L1371.3,510.6 L1372,508.7 L1372.7,506.8 L1373.5,504.9 L1374.3,503 L1375,501.1 L1375.9,499.2 L1376.7,497.3 L1377.5,495.4 L1378.4,493.5 L1379.3,491.6 L1380.1,489.7 L1381,487.8 L1382,485.9 L1382.9,484 L1383.8,482.1 L1384.8,480.2 L1385.7,478.3 L1386.7,476.5 L1387.7,474.6 L1388.8,472.8 L1389.8,471 L1390.9,469.2 L1392,467.4 L1393.1,465.7 L1394.3,463.9 L1395.5,462.2 L1396.8,460.5 L1398.1,458.8 L1399.5,457.1 L1400.8,455.4 L1402.2,453.8 L1403.6,452.2 L1405,450.6 L1406.4,449 L1407.8,447.4 L1409.1,445.9 L1410.4,444.3 L1411.7,442.8 L1413,441.4 L1414.2,439.9 L1415.7,438.1 L1417.1,436.3 L1418.6,434.6 L1419.9,432.9 L1421.3,431.2 L1422.6,429.6 L1424,428 L1425.3,426.3 L1426.6,424.7 L1428,423" stroke="#EDB120" stroke-width="9" stroke-dasharray="32.9 35.5 33.2 34.6 33.2 34.5 33.2 35.1 33.2 34.4 33.2 34.5 33.2 35.5 33.2 34.7 33.2 34.4 33.2 34.7 33.2 34.5 33.2 35.3 33.2 38.7 33.2 33.7 33.2 35.6 33.2 35.3 33.2 35.1 33.2 34.7 33.2 35.2 33.2 34.9 33.2 35.2 33.2 34.4 33.2 34.6 33.2 34.9 33.2 34.2 33.2 35.2 33.2 32.4 33.2 36.0 33.2 35.5 33.2 39.4 33.2 34.9 33.2 35.1 33.2 34.0 33.2 34.8 33.2 36.0 33.2 34.3 33.2 36.5 33.2 32.9 33.2 35.2 33.2 34.5 33.2 35.5 33.2 3052.2"/>
</g>
<g fill="#262626" font-size="56">
<text x="301.1" y="1159.3" text-anchor="middle">5</text><text x="526.5" y="1159.3" text-anchor="middle">10</text><text x="751.9" y="1159.3" text-anchor="middle">15</text><text x="977.3" y="1159.3" text-anchor="middle">20</text><text x="1202.6" y="1159.3" text-anchor="middle">25</text><text x="1427" y="1159.3" text-anchor="middle">30</text>
<text x="192.5" y="1108" text-anchor="end">0</text><text x="192.5" y="902.8" text-anchor="end">20</text><text x="192.5" y="697.6" text-anchor="end">40</text><text x="192.5" y="492.4" text-anchor="end">60</text><text x="192.5" y="287.2" text-anchor="end">80</text><text x="192.5" y="184.6" text-anchor="end">90</text><text x="192.5" y="82" text-anchor="end">100</text>
</g>
<text x="819" y="1240" text-anchor="middle" font-size="63.3" fill="#262626">Frequency, GHz</text>
<text transform="translate(68.5,566) rotate(-90) scale(0.906,1)" text-anchor="middle" font-size="64" fill="#262626">%</text>
<rect x="639" y="360" width="424.5" height="210.7" fill="#fff"/>
<g fill="#1e1e1e"><rect x="639" y="360" width="424.5" height="2.8"/><rect x="639" y="568" width="424.5" height="2.7"/><rect x="639" y="360" width="2" height="210.7"/><rect x="1061.2" y="360" width="2.6" height="210.7"/></g>
<line x1="654" y1="398.5" x2="739" y2="398.5" stroke="#D95319" stroke-width="9"/>
<line x1="654" y1="465" x2="739" y2="465" stroke="#EDB120" stroke-width="9" stroke-dasharray="35 33"/>
<line x1="654" y1="532.4" x2="731.5" y2="532.4" stroke="#7E2F8E" stroke-width="9" stroke-dasharray="9 8.1"/>
<g font-size="51" fill="#000">
<text x="745" y="417.9">Absorbance</text>
<text x="745" y="485">Reflection</text>
<text x="745.5" y="552" font-size="51.3">Transmission</text>
</g>
</svg>
</body></html>
